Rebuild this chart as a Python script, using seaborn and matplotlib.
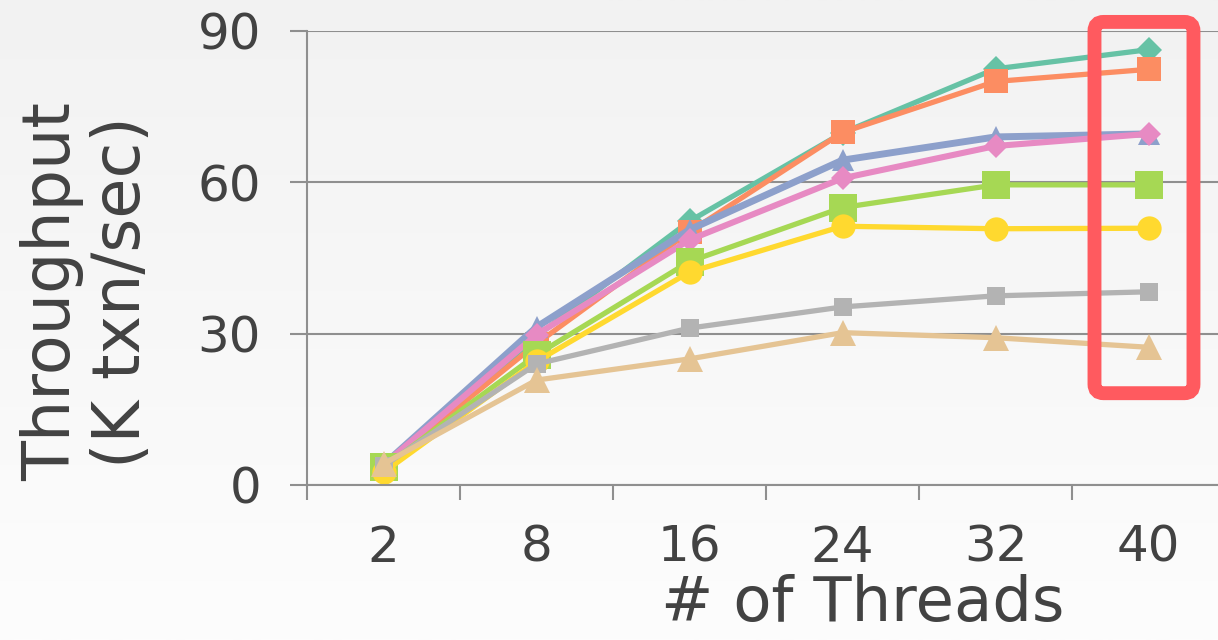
import numpy as np
import pandas as pd
import matplotlib
matplotlib.use("Agg")
import matplotlib.pyplot as plt
from matplotlib.patches import FancyBboxPatch
from matplotlib.colors import LinearSegmentedColormap
import seaborn as sns

# ---- data ----
threads = ["2", "8", "16", "24", "32", "40"]
s_teal = [2.5, 29.5, 52.3, 69.8, 82.5, 86.3]
s_orange = [3.5, 28.0, 50.2, 69.9, 80.0, 82.4]
s_blue = [4.0, 31.3, 50.6, 64.4, 69.0, 69.6]
s_pink = [4.0, 29.8, 48.6, 60.8, 67.2, 69.6]
s_green = [3.5, 25.8, 44.3, 55.0, 59.5, 59.5]
s_yellow = [2.5, 24.5, 42.2, 51.3, 50.8, 50.9]
s_gray = [3.8, 24.0, 31.1, 35.3, 37.5, 38.3]
s_beige = [4.2, 20.8, 25.0, 30.2, 29.2, 27.3]

series = [
    ("A", s_teal, "#66c2a5", "D", 13.0, 3.8),
    ("B", s_orange, "#fc8d62", "s", 17.0, 3.8),
    ("C", s_blue, "#8da0cb", "^", 16.0, 5.0),
    ("D", s_pink, "#e78ac3", "D", 12.5, 4.4),
    ("E", s_green, "#a6d854", "s", 20.5, 3.8),
    ("F", s_yellow, "#ffd92f", "o", 17.5, 3.8),
    ("G", s_gray, "#b3b3b3", "s", 13.5, 3.8),
    ("H", s_beige, "#e5c494", "^", 19.0, 3.8),
]

sns.set_theme(style="white")
plt.rcParams['font.family'] = ['DejaVu Sans']
plt.rcParams['xtick.bottom'] = True
plt.rcParams['ytick.left'] = True
FW = "normal"
txt = "#424242"
gcol = "#8f8f8f"

fig = plt.figure(figsize=(12.18, 6.4), dpi=100)
bg = fig.add_axes([0, 0, 1, 1], zorder=-10)
grad = np.linspace(0, 1, 256).reshape(-1, 1)
cm = LinearSegmentedColormap.from_list("bg", ["#f2f2f2", "#fdfdfd"])
bg.imshow(grad, aspect="auto", cmap=cm, extent=[0, 1, 0, 1], origin="upper")
bg.axis("off")

ax = fig.add_axes([307 / 1218, 1 - 485 / 640, 918 / 1218, 454 / 640])
ax.set_facecolor("none")

xpos = np.arange(len(threads))
for name, vals, col, mk, ms, lw in series:
    df = pd.DataFrame({"x": xpos, "y": vals})
    sns.lineplot(data=df, x="x", y="y", ax=ax, color=col, marker=mk,
                 markersize=ms, linewidth=lw, markeredgewidth=0,
                 legend=False, clip_on=False)

ax.set_xlim(-0.5, 5.5)
ax.set_ylim(0, 90)
ax.set_yticks([0, 30, 60, 90])
ax.yaxis.grid(True, color=gcol, linewidth=1.5)
ax.set_axisbelow(True)
for s in ["top", "right"]:
    ax.spines[s].set_visible(False)
for s in ["left", "bottom"]:
    ax.spines[s].set_color(gcol)
    ax.spines[s].set_linewidth(1.5)

ax.set_xticks(xpos)
ax.set_xticklabels(threads, fontweight=FW)
ax.set_xticks(np.arange(-0.5, 5.0, 1.0), minor=True)
ax.set_yticklabels(["0", "30", "60", "90"], fontweight=FW)
ax.tick_params(axis="x", which="major", bottom=False, length=0, pad=28, labelsize=36, labelcolor=txt)
ax.tick_params(axis="x", which="minor", bottom=True, length=11, width=1.5, color=gcol, direction="out")
ax.tick_params(axis="y", which="major", left=True, length=12, width=1.5, color=gcol, direction="out",
               pad=21, labelsize=36, labelcolor=txt)

ax.set_xlabel("# of Threads", fontsize=45, color=txt, fontweight=FW)
ax.xaxis.set_label_coords(0.605, -0.195)
ax.set_ylabel("Throughput\n(K txn/sec)", fontsize=47, color=txt, multialignment="center",
              linespacing=1.12, fontweight=FW)
ax.yaxis.set_label_coords(-0.167, 0.425)

box = FancyBboxPatch((4.647, 18.2), 0.647, 73.6,
                     boxstyle="round,pad=0,rounding_size=0.06",
                     mutation_aspect=153 / 5.044,
                     fill=False, edgecolor="#ff5a5f", linewidth=10,
                     clip_on=False, zorder=5)
ax.add_patch(box)

fig.savefig("out.png", dpi=100)
